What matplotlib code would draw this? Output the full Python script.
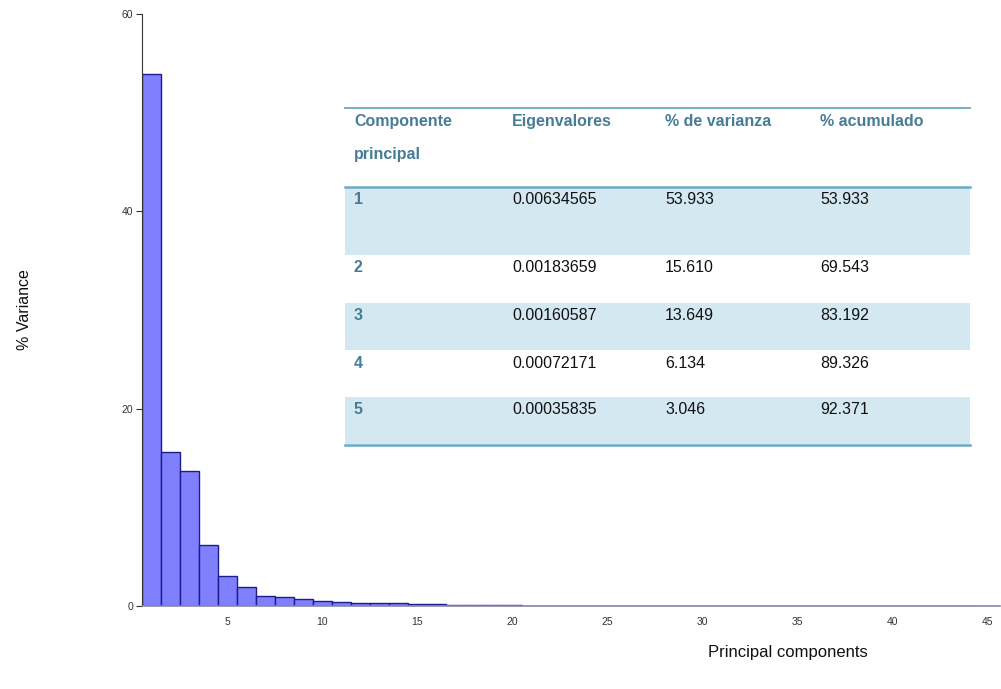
import matplotlib
matplotlib.use("Agg")
import matplotlib.pyplot as plt
from matplotlib.patches import Rectangle
from matplotlib.lines import Line2D

plt.rcParams['font.family'] = ['Liberation Sans', 'DejaVu Sans']

# % variance explained by each principal component
components = list(range(1, 45))
variance = [53.933, 15.610, 13.649, 6.134, 3.046,
            1.90, 0.98, 0.88, 0.68, 0.47,
            0.37, 0.30, 0.28, 0.26, 0.20,
            0.17, 0.15, 0.14, 0.13, 0.12,
            0.05, 0.05, 0.04, 0.04, 0.04,
            0.03, 0.03, 0.03, 0.03, 0.03,
            0.02, 0.02, 0.02, 0.02, 0.02,
            0.02, 0.02, 0.02, 0.01, 0.01,
            0.01, 0.01, 0.01, 0.01]

# table contents
col_headers = ["Componente\nprincipal", "Eigenvalores", "% de varianza", "% acumulado"]
row_ids = ["1", "2", "3", "4", "5"]
eigenvalues = ["0.00634565", "0.00183659", "0.00160587", "0.00072171", "0.00035835"]
pct_var = ["53.933", "15.610", "13.649", "6.134", "3.046"]
pct_cum = ["53.933", "69.543", "83.192", "89.326", "92.371"]

W, H = 1001, 689
fig = plt.figure(figsize=(W / 100, H / 100), dpi=100)
ax = fig.add_axes([141.5 / W, 1 - 606 / H, (1000 - 141.5) / W, (606 - 14) / H])

ax.bar(components, variance, width=1.0, color='#8080ff',
       edgecolor='#1c1c8a', linewidth=1.0)
ax.set_xlim(0.5, 45.68)
ax.set_ylim(0, 60)
ax.set_yticks([0, 20, 40, 60])
ax.set_xticks([5, 10, 15, 20, 25, 30, 35, 40, 45])
ax.tick_params(axis='y', labelsize=7.5, length=4, width=0.8, colors='#333333', pad=2)
ax.tick_params(axis='x', labelsize=7.5, length=0, pad=8, colors='#333333')
for s in ['top', 'right']:
    ax.spines[s].set_visible(False)
ax.spines['left'].set_color('#333333')
ax.spines['bottom'].set_color('#8888aa')
ax.spines['left'].set_linewidth(0.8)
ax.spines['bottom'].set_linewidth(1.2)

fig.text(25 / W, 1 - 310 / H, "% Variance", rotation=90, fontsize=11.5,
         ha='center', va='center', color='#111111')
fig.text(788 / W, 1 - 652 / H, "Principal components", fontsize=12,
         ha='center', va='center', color='#111111')

# table drawn in figure pixel coordinates
def fx(x):
    return x / W

def fy(y):
    return 1 - y / H

teal = '#467d96'
line_c = '#6aaac4'
band = '#d3e8f0'
tx0, tx1 = 345, 970
col_x = [354, 512, 665, 820]
row_tops = [187, 255, 303, 350, 397]
row_bots = [255, 303, 350, 397, 444]
banded = [True, False, True, False, True]

for top, bot, b in zip(row_tops, row_bots, banded):
    if b:
        fig.add_artist(Rectangle((fx(tx0), fy(bot)), fx(tx1 - tx0), (bot - top) / H,
                                 facecolor=band, edgecolor='none'))

fig.add_artist(Line2D([fx(tx0), fx(tx1)], [fy(108), fy(108)], color=line_c, lw=1.3))
fig.add_artist(Line2D([fx(tx0), fx(tx1)], [fy(187), fy(187)], color=line_c, lw=1.8))
fig.add_artist(Line2D([fx(tx0), fx(tx1)], [fy(445), fy(445)], color=line_c, lw=1.8))

for x, h in zip(col_x, col_headers):
    fig.text(fx(x), fy(114), h, fontsize=11.5, fontweight='bold', color=teal,
             ha='left', va='top', linespacing=2.5)

for i, top in enumerate(row_tops):
    yy = fy(top + 13)
    fig.text(fx(col_x[0]), yy, row_ids[i], fontsize=11.5, fontweight='bold',
             color=teal, ha='left', va='center')
    fig.text(fx(col_x[1]), yy, eigenvalues[i], fontsize=11.5, color='#111111',
             ha='left', va='center')
    fig.text(fx(col_x[2]), yy, pct_var[i], fontsize=11.5, color='#111111',
             ha='left', va='center')
    fig.text(fx(col_x[3]), yy, pct_cum[i], fontsize=11.5, color='#111111',
             ha='left', va='center')

fig.savefig("out.png", dpi=100)
